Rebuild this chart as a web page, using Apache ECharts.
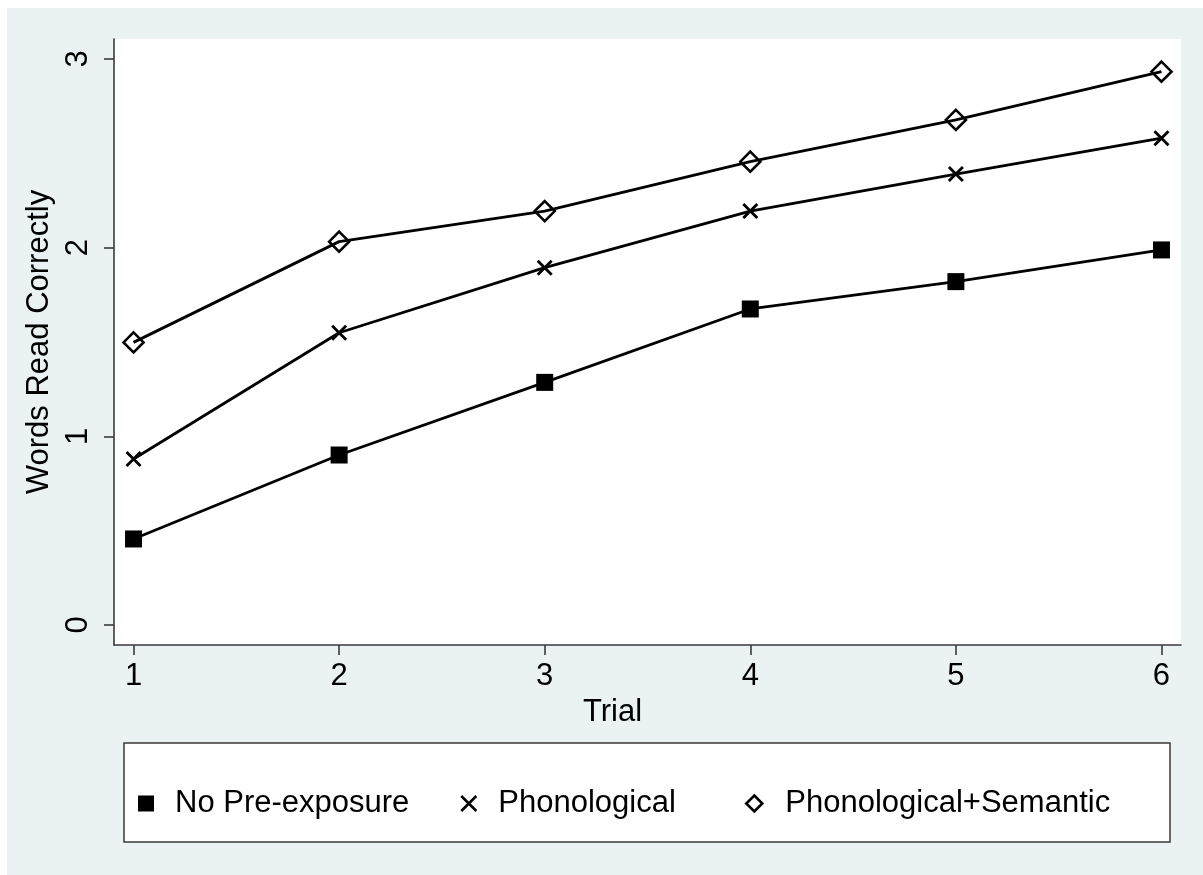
<!DOCTYPE html>
<html>
<head>
<meta charset="utf-8">
<script src="https://cdn.jsdelivr.net/npm/echarts@6/dist/echarts.min.js"></script>
<style>
html,body{margin:0;padding:0;background:#ffffff;}
#bg{position:absolute;left:7px;top:8px;width:1196px;height:867px;background:#eaf2f3;}
#chart{position:absolute;left:0;top:0;width:1203px;height:875px;}
</style>
</head>
<body>
<div id="bg"></div>
<div id="chart"></div>
<script>
const trials = [1, 2, 3, 4, 5, 6];
const xTicks = [1, 2, 3, 4, 5, 6];
const yTicks = [0, 1, 2, 3];
const noPreExposure = [0.456, 0.901, 1.286, 1.675, 1.820, 1.988];
const phonological = [0.880, 1.549, 1.894, 2.194, 2.390, 2.580];
const phonSemantic = [1.498, 2.032, 2.194, 2.456, 2.677, 2.933];
const seriesNames = ['No Pre-exposure', 'Phonological', 'Phonological+Semantic'];

const FONT = '"Liberation Sans", Arial, Helvetica, sans-serif';
const FS = 31;
const crossPath = 'path://M0,0L20,20M20,0L0,20';
const pair = arr => trials.map((t, i) => [t, arr[i]]);

const chart = echarts.init(document.getElementById('chart'), null, {renderer: 'canvas'});

const lineStyle = {color: '#000', width: 2.8};
const styles = [
  {symbol: 'rect', symbolSize: 17, itemStyle: {color: '#000', borderWidth: 0}},
  {symbol: crossPath, symbolSize: 14, itemStyle: {color: 'rgba(0,0,0,0)', borderColor: '#000', borderWidth: 2.8}},
  {symbol: 'diamond', symbolSize: 20, itemStyle: {color: 'rgba(0,0,0,0)', borderColor: '#000', borderWidth: 2.6}}
];
const legendIcons = ['rect', crossPath, 'diamond'];
const legendStyles = [
  {color: '#000', borderWidth: 0},
  {color: 'rgba(0,0,0,0)', borderColor: '#000', borderWidth: 2.6},
  {color: 'rgba(0,0,0,0)', borderColor: '#000', borderWidth: 2.6}
];
const legendSizes = [[16, 16], [15, 15], [16, 16]];
const legendLeft = [138, 460, 745];
const legendPad = [16, 17, 18];

const dataSets = [noPreExposure, phonological, phonSemantic];

const option = {
  animation: false,
  backgroundColor: 'transparent',
  textStyle: {fontFamily: FONT},
  graphic: [{
    type: 'rect',
    shape: {x: 124, y: 743, width: 1046, height: 99},
    style: {fill: '#ffffff', stroke: '#3a3a3a', lineWidth: 1.5},
    z: -1
  }],
  grid: {
    left: 114, right: 22, top: 39, bottom: 230,
    show: true, backgroundColor: '#ffffff', borderWidth: 0
  },
  legend: seriesNames.map((n, i) => ({
    left: legendLeft[i], top: 788,
    orient: 'horizontal',
    padding: 0,
    selectedMode: false,
    itemWidth: legendSizes[i][0], itemHeight: legendSizes[i][1],
    textStyle: {fontSize: FS, color: '#000', fontFamily: FONT, padding: [0, 0, 0, legendPad[i]]},
    data: [{name: n, icon: legendIcons[i], itemStyle: legendStyles[i]}]
  })),
  xAxis: {
    type: 'value', min: 0.905, max: 6.095,
    name: 'Trial', nameLocation: 'middle', nameGap: 45,
    nameTextStyle: {fontSize: FS, color: '#000', fontFamily: FONT, padding: [0, 70, 0, 0]},
    axisLine: {show: true, onZero: false, lineStyle: {color: '#3a3a3a', width: 1.6}},
    axisTick: {show: true, length: 10, inside: false, customValues: xTicks, lineStyle: {color: '#3a3a3a', width: 1.6}},
    axisLabel: {show: true, customValues: xTicks, margin: 16, fontSize: FS, color: '#000', fontFamily: FONT},
    splitLine: {show: false}
  },
  yAxis: {
    type: 'value', min: -0.106, max: 3.106,
    name: 'Words Read Correctly', nameLocation: 'middle', nameGap: 58,
    nameTextStyle: {fontSize: FS, color: '#000', fontFamily: FONT},
    axisLine: {show: true, onZero: false, lineStyle: {color: '#3a3a3a', width: 1.6}},
    axisTick: {show: true, length: 10, inside: false, customValues: yTicks, lineStyle: {color: '#3a3a3a', width: 1.6}},
    axisLabel: {show: true, customValues: yTicks, rotate: 90, margin: 20, fontSize: FS, color: '#000', fontFamily: FONT},
    splitLine: {show: false}
  },
  series: seriesNames.map((n, i) => ({
    name: n,
    type: 'line',
    data: pair(dataSets[i]),
    symbol: styles[i].symbol,
    symbolSize: styles[i].symbolSize,
    showAllSymbol: true,
    itemStyle: styles[i].itemStyle,
    lineStyle: lineStyle,
    emphasis: {disabled: true},
    z: 3
  }))
};
chart.setOption(option);
</script>
</body>
</html>
